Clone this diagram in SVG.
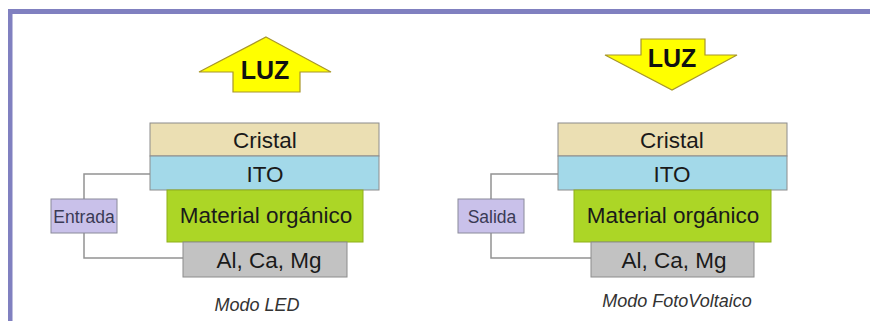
<svg xmlns="http://www.w3.org/2000/svg" width="870" height="321" viewBox="0 0 870 321">
<style>
.layer{stroke:#8c8c8c;stroke-width:1}
.cristal{fill:#ebdfb3}
.ito{fill:#a3d9e9}
.org{fill:#acd626;stroke:#8fb01a}
.metal{fill:#c2c2c2}
.port{fill:#c9c1ea;stroke:#8a8a9a;stroke-width:1}
.t{font-family:"Liberation Sans",Arial,sans-serif;text-anchor:middle;fill:#1a1a1a}
.big{font-size:22.5px}
.small{font-size:17.5px;fill:#3a3a55}
.cap{font-size:18px;font-style:italic;fill:#333}
.luz{font-size:25px;font-weight:bold;fill:#111}
.arrow{fill:#ffff00;stroke:#a8962a;stroke-width:1.2}
.wire{fill:none;stroke:#939393;stroke-width:1.5}
</style>
<rect x="0" y="0" width="870" height="321" fill="#ffffff"/>
<g id="frame">
<rect x="8" y="9" width="862" height="5" fill="#8080c0"/>
<rect x="8" y="9" width="4.5" height="312" fill="#8080c0"/>
</g>
<g id="connectors">
<polyline class="wire" points="151,174 84,174 84,258 183,258"/>
<polyline class="wire" points="558,174 491,174 491,258 591,258"/>
</g>
<g id="luz-up">
<polygon class="arrow" points="266,37 331,72 300,72 300,92 233,92 233,72 199,72"/>
<text class="t luz" x="265" y="79">LUZ</text>
</g>
<g id="luz-down">
<polygon class="arrow" points="641,39 705,39 705,55 737,55 672,90 605,55 641,55"/>
<text class="t luz" x="672" y="67">LUZ</text>
</g>
<g id="led-cristal">
<rect class="layer cristal" x="150" y="123" width="229" height="33"/>
<text class="t big" x="265" y="148">Cristal</text>
</g>
<g id="led-ito">
<rect class="layer ito" x="150" y="156" width="229" height="34"/>
<text class="t big" x="265" y="182">ITO</text>
</g>
<g id="led-organico">
<rect class="layer org" x="167" y="190" width="196" height="52"/>
<text class="t big" x="266" y="223">Material orgánico</text>
</g>
<g id="led-metal">
<rect class="layer metal" x="183" y="242" width="164" height="35"/>
<text class="t big" x="269" y="268">Al, Ca, Mg</text>
</g>
<g id="entrada">
<rect class="port" x="51" y="199" width="66" height="34"/>
<text class="t small" x="84" y="223">Entrada</text>
</g>
<g id="pv-cristal">
<rect class="layer cristal" x="558" y="123" width="229" height="33"/>
<text class="t big" x="672" y="148">Cristal</text>
</g>
<g id="pv-ito">
<rect class="layer ito" x="558" y="156" width="229" height="34"/>
<text class="t big" x="672" y="182">ITO</text>
</g>
<g id="pv-organico">
<rect class="layer org" x="574" y="190" width="197" height="52"/>
<text class="t big" x="673" y="223">Material orgánico</text>
</g>
<g id="pv-metal">
<rect class="layer metal" x="591" y="242" width="163" height="35"/>
<text class="t big" x="674" y="268">Al, Ca, Mg</text>
</g>
<g id="salida">
<rect class="port" x="458" y="199" width="66" height="34"/>
<text class="t small" x="492" y="223">Salida</text>
</g>
<text class="t cap" x="257" y="311">Modo LED</text>
<text class="t cap" x="677" y="307">Modo FotoVoltaico</text>
</svg>
